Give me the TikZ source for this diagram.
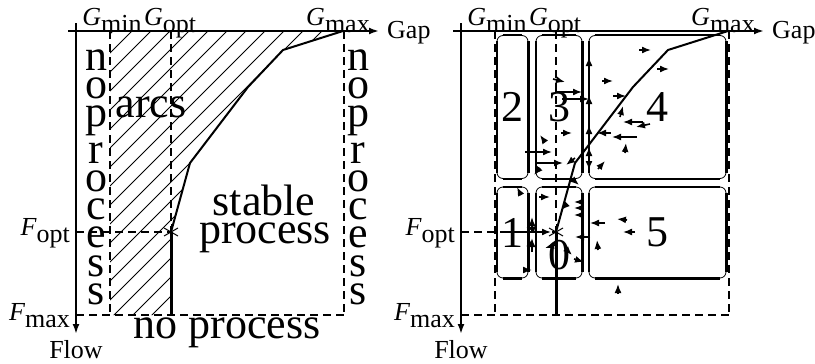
\documentclass[tikz,border=0pt]{standalone}
\usepackage{fontspec}
\setmainfont{Liberation Serif}
\usetikzlibrary{arrows.meta}
\newcommand\vstack[1]{\vbox{\baselineskip=-1000pt\lineskip=7pt\lineskiplimit=0pt\halign{\hfil##\hfil\cr#1\crcr}}}
\newcommand\lab[2]{{\itshape #1}\lower7pt\hbox{#2}}
\tikzset{
  axis/.style={line width=2pt, -{Latex[length=10pt,width=7pt]}},
  guide/.style={line width=1.8pt, dash pattern=on 8pt off 5pt},
  curve/.style={line width=2pt, line join=round},
  hatch/.style={line width=0.8pt},
  big/.style={font=\fontsize{44}{44}\selectfont, inner sep=0pt},
  lbl/.style={font=\fontsize{26}{26}\selectfont, inner sep=0pt},
  fa/.style={line width=1.6pt, -{Latex[length=9pt,width=7pt]}},
  rbox/.style={draw, line width=0.8pt, rounded corners=6pt, inner sep=0pt, font=\fontsize{44}{44}\selectfont},
  boxedge/.style={line width=2.2pt},
  solid axis/.style={line width=3pt},
  starline/.style={line width=1pt},
}
\newcommand\panel[2]{%
 \begin{scope}[xshift=#2]
  \coordinate (#1xs) at (68,31);  \coordinate (#1xe) at (379,31);
  \coordinate (#1ys) at (76,23);  \coordinate (#1ye) at (76,334);
  \coordinate (#1gmin) at (110,31); \coordinate (#1gminb) at (110,315);
  \coordinate (#1gopt) at (171,31); \coordinate (#1star) at (171,232); \coordinate (#1goptb) at (171,315);
  \coordinate (#1gmax) at (344,31); \coordinate (#1gmaxb) at (344,315);
  \coordinate (#1fopt) at (76,232); \coordinate (#1fmax) at (76,315);
  \coordinate (#1c0) at (343,31); \coordinate (#1c1) at (283,50);
  \coordinate (#1c2) at (248,87); \coordinate (#1c3) at (190,163);
  \draw[guide] (#1gmin) -- (#1gminb);
  \draw[guide] (#1gmax) -- (#1gmaxb);
  \draw[guide] (#1gopt) -- (#1star);
  \draw[guide] (#1fopt) -- (#1star);
  \draw[guide] (#1fmax) -- (#1gmaxb);
  \draw[solid axis] (#1star) -- (#1goptb);
  \draw[curve] (#1c0) -- (#1c1) -- (#1c2) -- (#1c3) -- (#1star);
  \draw[starline] ([shift={(0,-8)}]#1star) -- ([shift={(0,8)}]#1star);
  \draw[starline] ([shift={(-7,-4)}]#1star) -- ([shift={(7,4)}]#1star);
  \draw[starline] ([shift={(-7,4)}]#1star) -- ([shift={(7,-4)}]#1star);
  \draw[axis] (#1xs) -- (#1xe);
  \draw[axis] (#1ys) -- (#1ye);
  \node[lbl, anchor=base] (#1Lgmin) at (112,25) {\lab{G}{min}};
  \node[lbl, anchor=base] (#1Lgopt) at (170,25) {\lab{G}{opt}};
  \node[lbl, anchor=base] (#1Lgmax) at (338,25) {\lab{G}{max}};
  \node[lbl, anchor=base east] (#1Lfopt) at (70,235) {\lab{F}{opt}};
  \node[lbl, anchor=base east] (#1Lfmax) at (70,320) {\lab{F}{max}};
  \node[lbl, anchor=base] (#1Lflow) at (76,358) {Flow};
  \node[lbl, anchor=base west] (#1Lgap) at (387,38) {Gap};
 \end{scope}}
\begin{document}
\begin{tikzpicture}[x=1pt, y=-1pt]
\useasboundingbox (0,0) rectangle (815,364);
% ---------- left panel ----------
\begin{scope}
  \clip (110,31) -- (343,31) -- (283,50) -- (248,87) -- (190,163) -- (171,232) -- (171,315) -- (110,315) -- cycle;
  \foreach \k in {-16,...,13} \draw[hatch] ({113+19*\k},316) -- ++(300,-300);
\end{scope}
\panel{L}{0pt}
\node[big, anchor=base] (arcs) at (151,117) {arcs};
\node[big, anchor=base] (stable) at (264,215) {stable};
\node[big, anchor=base] (proc) at (265,243) {process};
\node[big, anchor=base] (nop) at (227,338) {no process};
\node[big, anchor=north] (npl) at (96,50) {\vstack{n\cr o\cr p\cr r\cr o\cr c\cr e\cr s\cr s}};
\node[big, anchor=north] (npr) at (358,50) {\vstack{n\cr o\cr p\cr r\cr o\cr c\cr e\cr s\cr s}};
% ---------- right panel ----------
\panel{R}{385pt}
\node[rbox, minimum width=31pt, minimum height=143pt] (b2) at (512.5,107) {2};
\node[rbox, minimum width=46pt, minimum height=143pt] (b3) at (559,107) {3};
\node[rbox, minimum width=137pt, minimum height=143pt] (b4) at (657.5,107) {4};
\node[rbox, minimum width=31pt, minimum height=91pt] (b1) at (512.5,232.5) {1};
\node[rbox, minimum width=46pt, minimum height=91pt] (b0) at (559,232.5) {};
\node[rbox, minimum width=137pt, minimum height=91pt] (b5) at (657.5,232.5) {5};
\node[big] (l0) at ([yshift=-23pt]b0.center) {0};
\foreach \b in {b0,b1,b2,b3,b4,b5} {
  \draw[boxedge] ([xshift=6pt]\b.north west) -- ([xshift=-6pt]\b.north east);
  \draw[boxedge] ([xshift=6pt]\b.south west) -- ([xshift=-6pt]\b.south east);
  \draw[boxedge] ([yshift=-6pt]\b.north west) -- ([yshift=6pt]\b.south west);
  \draw[boxedge] ([yshift=-6pt]\b.north east) -- ([yshift=6pt]\b.south east);
}
\foreach \xa/\ya/\xb/\yb in {
  589/70/589/57, 589/108/589/95, 589/138/589/125, 589/160/589/147, 589/158/589/170,
  553/79/565/82, 555/92/582/92, 562/99/589/99, 602/81/613/81, 639/50/651/50,
  657/69/669/69, 613/96/626/96, 620/117/623/106, 643/122/623/122, 650/124/636/127,
  637/137/612/137, 611/133/597/133, 625/153/626/143, 598/169/605/161, 561/133/572/133,
  545/142/540/135, 525/152/552/152, 537/163/563/163, 575/158/566/165, 540/168/534/175,
  571/178/579/185, 521/195/517/187, 539/197/550/197, 584/202/574/202, 584/208/574/208,
  584/215/574/215, 567/204/561/210, 605/223/590/223, 627/220/617/219, 635/232/623/232,
  590/237/575/237, 598/250/597/240, 574/259/584/262, 565/248/572/255, 555/245/545/248,
  530/246/528/237, 533/229/526/227, 523/270/532/270, 618/294/618/284, 532/252/532/238,
  532/232/532/217, 505/232/551/232}
  \draw[fa] (\xa,\ya) -- (\xb,\yb);
\end{tikzpicture}
\end{document}
